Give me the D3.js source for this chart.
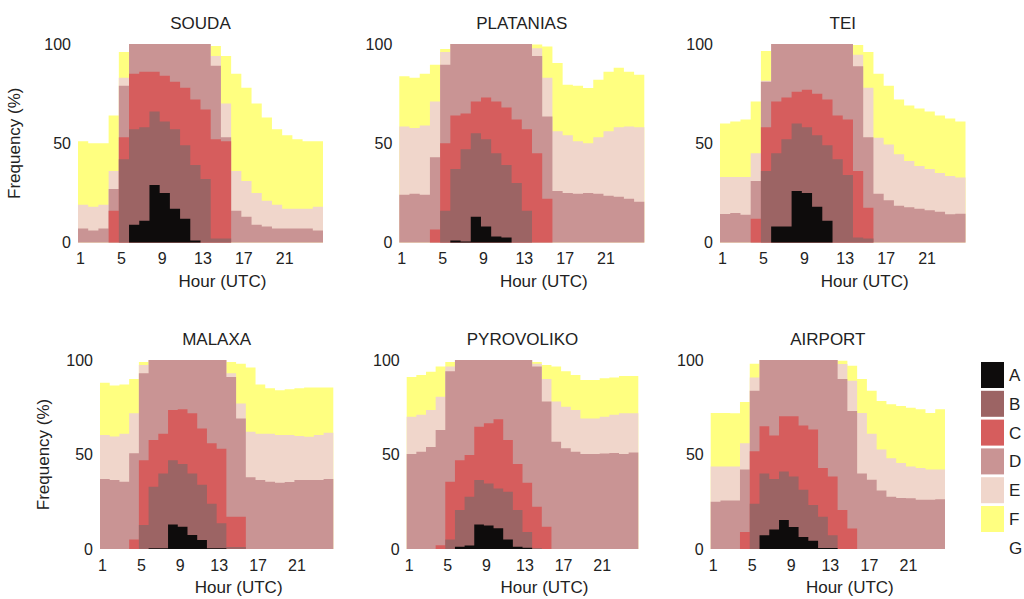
<!DOCTYPE html>
<html>
<head>
<meta charset="utf-8">
<script src="https://cdn.jsdelivr.net/npm/d3@7"></script>
<style>
  body { margin: 0; background: #fff; }
  text { font-family: Arial, "Liberation Sans", sans-serif; }
</style>
</head>
<body>
<svg id="chart" width="1024" height="599"></svg>
<script>
// hours of the day (UTC) and stability classes
const hours = [1,2,3,4,5,6,7,8,9,10,11,12,13,14,15,16,17,18,19,20,21,22,23,24];
const classes = ["A", "B", "C", "D", "E", "F", "G"];
const classColors = ["#0e0c0c", "#9c6464", "#d65d5d", "#c99494", "#f0d6cb", "#ffff80", "#ffffff"];
const xTicks = [1, 5, 9, 13, 17, 21];
const yTicks = [0, 50, 100];

// cumulative frequency (%) of classes up to A, B, C, D, E, F for each hour
const soudaA = [0,0,0,0,0,9,11,29,25,17,12,1,0,0,0,0,0,0,0,0,0,0,0,0];
const soudaB = [0,0,0,0,42,57,58,66,61,57,49,39,32,2,2,0,0,0,0,0,0,0,0,0];
const soudaC = [0,0,0,16,53,85,86,86,84,81,78,72,67,52,51,0,0,0,0,0,0,0,0,0];
const soudaD = [7,6,7,27,79,100,100,100,100,100,100,100,100,89,53,16,13,9,8,7,7,7,7,6];
const soudaE = [19,18,19,36,83,100,100,100,100,100,100,100,100,94,70,36,31,25,21,19,17,17,17,18];
const soudaF = [51,50,50,64,96,100,100,100,100,100,100,100,100,99,94,85,78,70,63,57,54,52,51,51];

const platA = [0,0,0,0,0,1,0.5,13,8,3,2.5,0,0,0,0,0,0,0,0,0,0,0,0,0];
const platB = [0,0,0,0,16,37,47,55,52,45,39,30,16,0,0,0,0,0,0,0,0,0,0,0];
const platC = [0,0,0,6.5,50,64,65,71,73,71,68,62,57,45,22,0,0,0,0,0,0,0,0,0];
const platD = [24,24.5,24,43,89.5,100,100,100,100,100,100,100,100,94,63.5,26,25,24.5,25,24.5,23.5,23,22,20.5];
const platE = [58.5,57.7,59,71,96,100,100,100,100,100,100,100,100,97.8,83,56,54,51,50,53,56,58,58.5,58];
const platF = [83.7,83,85,89.6,97.5,100,100,100,100,100,100,100,100,99.7,98.8,90.4,79.5,79,77.8,82,86,88,86,84.5];

const teiA = [0,0,0,0,0,8,8,26,25,18,11,0,0,0,0,0,0,0,0,0,0,0,0,0];
const teiB = [0,0,0,0,36,45,52,60,58,54,49,42,34,2.5,2,0,0,0,0,0,0,0,0,0];
const teiC = [0,0,0,12,58,71,73,76,77,75,72,64,62,36,17.5,0,0,0,0,0,0,0,0,0];
const teiD = [14.3,14.8,14,31,81,100,100,100,100,100,100,100,100,88.8,53,24.5,21.3,18.5,17.7,17,16.3,15.5,14.2,14.5];
const teiE = [33,33,33,45,81.5,100,100,100,100,100,100,100,100,94.6,78,52.8,49.4,44.4,41,38.5,37,35,33.5,32.7];
const teiF = [60,61,62,71,96.5,100,100,100,100,100,100,100,100,99.5,96,85,79,72,69,67.5,66,64,62.5,61];

const malA = [0,0,0,0,0,0.4,0.4,13,11.8,7.4,4.8,0.4,0.4,0,0,0,0,0,0,0,0,0,0,0];
const malB = [0,0,0,0,12.7,33,40,47,45,40,34,24,13.6,1,1,0,0,0,0,0,0,0,0,0];
const malC = [0,0,0,5,47,57.7,61,73.5,74,71.8,63.8,56,53,17,17,0,0,0,0,0,0,0,0,0];
const malD = [37,36.5,35.6,50.6,93,100,100,100,100,100,100,100,100,91,69,38,36.5,35.6,35,35.5,36.5,36.5,36.5,37];
const malE = [60.3,59.5,61,71.8,97.4,100,100,100,100,100,100,100,100,93,77,62,61,61,60.3,60.3,59.8,59.4,60.3,61.5];
const malF = [88,86.5,87,90,99,100,100,100,100,100,100,100,100,99,98,96,87,85,84,84.5,85,85.5,85.5,85.5];

const pyrA = [0,0,0,0,0,1.2,1.8,13,12.5,11,5,1.2,0.7,0,0,0,0,0,0,0,0,0,0,0];
const pyrB = [0,0,0,0,5,20.6,27.7,36.5,34.7,32,30.3,20.6,9,0.5,0,0,0,0,0,0,0,0,0,0];
const pyrC = [0,0,0,2,35.6,47,49.7,64.7,66.5,68.6,57.7,45,35,22.4,11.8,0,0,0,0,0,0,0,0,0];
const pyrD = [50.3,51.5,54,63,94,100,100,100,100,100,100,100,100,96.5,78,56.8,53.3,51.5,50.3,50.3,50.5,50.8,50.3,51];
const pyrE = [70,71,73.5,80.6,96.5,100,100,100,100,100,100,100,100,98,90,78,75.3,73.5,69,69,70,71,71.8,71.8];
const pyrF = [91,92,93.8,96.5,99,100,100,100,100,100,100,100,100,99,97.4,96.5,94,92,89.4,89.4,90.3,90.8,91.5,91.5];

const airA = [0,0,0,0,0,7.3,10.3,15.3,11.7,6.4,4.3,0.5,0.5,0,0,0,0,0,0,0,0,0,0,0];
const airB = [0,0,0,0,24,40,37,41,38.4,31.3,23.3,17,7.3,0,0,0,0,0,0,0,0,0,0,0];
const airC = [0,0,0,9,51.7,65,60,70.3,70.3,65.4,63.2,42.8,38.4,20.6,10.8,0,0,0,0,0,0,0,0,0];
const airD = [25,25.6,25.6,42,83.7,100,100,100,100,100,100,100,100,90,73,40,36.6,31,27.7,27,26.8,26,26,26.3];
const airE = [43.7,43.7,43.7,56,90.8,100,100,100,100,100,100,100,100,97.9,89,72,61,52.6,48,45.5,43.7,42.8,42,42];
const airF = [72,72,71.8,77.8,98,100,100,100,100,100,100,100,100,99.6,97,90,83.7,78.3,76.6,75.7,74.8,73.9,72,73.9];

const stations = ["SOUDA", "PLATANIAS", "TEI", "MALAXA", "PYROVOLIKO", "AIRPORT"];
const stationSeries = [
  [soudaA, soudaB, soudaC, soudaD, soudaE, soudaF],
  [platA, platB, platC, platD, platE, platF],
  [teiA, teiB, teiC, teiD, teiE, teiF],
  [malA, malB, malC, malD, malE, malF],
  [pyrA, pyrB, pyrC, pyrD, pyrE, pyrF],
  [airA, airB, airC, airD, airE, airF]
];

// panel boxes (plot area) in pixels
const boxes = [
  { left: 78,    top: 44,  width: 245,   height: 198.5, yLabelX: 20 },
  { left: 399.3, top: 44,  width: 245,   height: 198.5 },
  { left: 720,   top: 44,  width: 245.5, height: 198.5 },
  { left: 100,   top: 360, width: 233.3, height: 189, yLabelX: 49 },
  { left: 406.7, top: 360, width: 231.6, height: 189 },
  { left: 710.7, top: 360, width: 234.3, height: 189 }
];

const svg = d3.select("#chart");
const textColor = "#222";

stations.forEach((name, si) => {
  const b = boxes[si];
  const series = stationSeries[si];

  const x = d3.scaleLinear().domain([1, 25]).range([b.left, b.left + b.width]);
  const y = d3.scaleLinear().domain([0, 100]).range([b.top + b.height, b.top]);

  const g = svg.append("g").attr("class", "panel");

  // paint from the highest cumulative class down so lower classes sit on top
  for (let k = series.length - 1; k >= 0; k--) {
    const vals = series[k];
    const pts = hours.map((h, i) => [h, vals[i]]);
    pts.push([25, vals[vals.length - 1]]);
    const area = d3.area()
      .curve(d3.curveStepAfter)
      .x(d => x(d[0]))
      .y0(y(0))
      .y1(d => y(d[1]));
    g.append("path")
      .datum(pts)
      .attr("d", area)
      .attr("fill", classColors[k]);
  }

  // axes (labels only, no lines)
  const yAxis = d3.axisLeft(y).tickValues(yTicks).tickSize(0).tickPadding(7);
  g.append("g")
    .attr("transform", `translate(${b.left},0)`)
    .call(yAxis)
    .call(s => s.select(".domain").remove())
    .attr("font-size", 16)
    .attr("font-family", "Arial, 'Liberation Sans', sans-serif")
    .style("color", textColor);

  const xAxis = d3.axisBottom(x).tickValues(xTicks).tickSize(0).tickPadding(10.5);
  g.append("g")
    .attr("transform", `translate(2,${b.top + b.height})`)
    .call(xAxis)
    .call(s => s.select(".domain").remove())
    .attr("font-size", 16)
    .attr("font-family", "Arial, 'Liberation Sans', sans-serif")
    .style("color", textColor);

  // title
  g.append("text")
    .text(name)
    .attr("x", b.left + b.width / 2)
    .attr("y", b.top - 15)
    .attr("text-anchor", "middle")
    .attr("font-size", 17)
    .attr("fill", textColor);

  // x label
  g.append("text")
    .text("Hour (UTC)")
    .attr("x", b.left + b.width / 2 + 22)
    .attr("y", b.top + b.height + 44)
    .attr("text-anchor", "middle")
    .attr("font-size", 17)
    .attr("fill", textColor);

  // y label on the left column only
  if (b.yLabelX) {
    g.append("text")
      .text("Frequency (%)")
      .attr("transform", `translate(${b.yLabelX},${b.top + b.height / 2}) rotate(-90)`)
      .attr("text-anchor", "middle")
      .attr("font-size", 17)
      .attr("fill", textColor);
  }
});

// legend
const legend = svg.append("g").attr("transform", "translate(981,362)");
classes.forEach((c, i) => {
  legend.append("rect")
    .attr("x", 0)
    .attr("y", i * 28.8)
    .attr("width", 23)
    .attr("height", 26)
    .attr("fill", classColors[i]);
  legend.append("text")
    .text(c)
    .attr("x", 28)
    .attr("y", i * 28.8 + 13)
    .attr("dy", "0.35em")
    .attr("font-size", 17)
    .attr("fill", textColor);
});
</script>
</body>
</html>
